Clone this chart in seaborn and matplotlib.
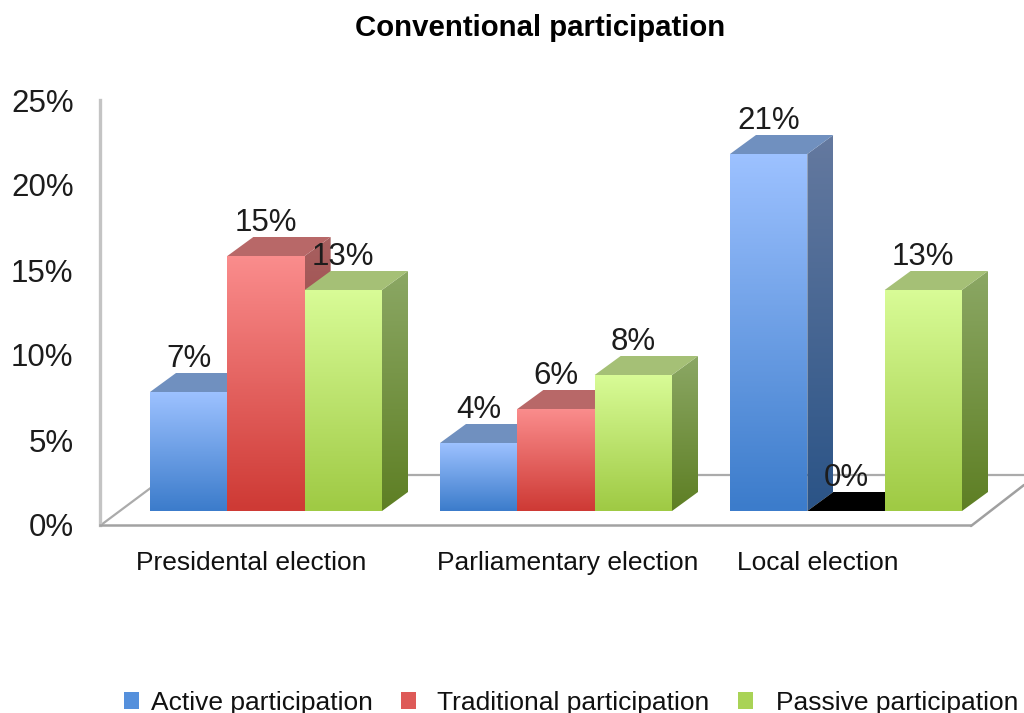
import numpy as np
import pandas as pd
import seaborn as sns
import matplotlib
matplotlib.use("Agg")
import matplotlib.pyplot as plt
from matplotlib.colors import LinearSegmentedColormap
from matplotlib.patches import Polygon, Patch

categories = ["Presidental election", "Parliamentary election", "Local election"]
series_names = ["Active participation", "Traditional participation", "Passive participation"]
active = [7, 4, 21]
traditional = [15, 6, 0]
passive = [13, 8, 13]
y_ticks = [0, 5, 10, 15, 20, 25]
y_tick_labels = ["0%", "5%", "10%", "15%", "20%", "25%"]

front_top = ["#9CC1FF", "#FA8C8C", "#D8FB96"]
front_bot = ["#3C7CCB", "#CE3A35", "#9FCA44"]
side_top = ["#64799F", "#A86060", "#8BA764"]
side_bot = ["#2B5487", "#8E2D2A", "#5E7F24"]
top_face = ["#7090BF", "#B86868", "#A5C076"]

W, H = 1024, 713
AX_L, AX_R, AX_T, AX_B = 100, 970, 100, 525
GROUP_PX = 290.0
C0_PX = 266.0
PX_PER_UNIT = 17.0
BASE_PX = 14.0
DX_PX, DY_PX = 26.0, 19.0

sns.set_theme(style="white")
plt.rcParams["font.family"] = ["Liberation Sans", "DejaVu Sans"]

rows = []
for i, cat in enumerate(categories):
    for name, vals in zip(series_names, [active, traditional, passive]):
        rows.append({"election": cat, "series": name, "value": vals[i]})
df = pd.DataFrame(rows)

fig = plt.figure(figsize=(W / 100, H / 100), dpi=100)
ax = fig.add_axes([AX_L / W, (H - AX_B) / H, (AX_R - AX_L) / W, (AX_B - AX_T) / H])

sns.barplot(data=df, x="election", y="value", hue="series", hue_order=series_names,
            palette=front_bot, width=0.8, gap=0, dodge=True, errorbar=None, ax=ax, legend=False,
            linewidth=0)

xlim = ((AX_L - C0_PX) / GROUP_PX, (AX_R - C0_PX) / GROUP_PX)
ylim = (0, 25)
base = BASE_PX / PX_PER_UNIT
dx, dy = DX_PX / GROUP_PX, DY_PX / PX_PER_UNIT


def xd(px):
    return (px - C0_PX) / GROUP_PX


def yd(py):
    return (AX_B - py) / PX_PER_UNIT


def gradient(patch, c_top, c_bot, z):
    ax.add_patch(patch)
    patch.set_facecolor("none")
    patch.set_edgecolor("none")
    patch.set_clip_on(False)
    verts = patch.get_xy()
    x0, x1 = verts[:, 0].min(), verts[:, 0].max()
    y0, y1 = verts[:, 1].min(), verts[:, 1].max()
    cmap = LinearSegmentedColormap.from_list("g", [c_bot, c_top])
    im = ax.imshow(np.linspace(1, 0, 64).reshape(-1, 1), cmap=cmap, vmin=0, vmax=1, aspect="auto",
                   extent=(x0, x1, y0, y1), zorder=z, interpolation="bilinear")
    im.set_clip_box(fig.bbox)
    im.set_clip_path(patch)


# Back edges of the floor, behind the bars
floor_kw = dict(color="#ababab", lw=1.6, clip_on=False, zorder=1, solid_capstyle="round")
ax.plot([xd(101), xd(168)], [yd(525), yd(475)], **floor_kw)
ax.plot([xd(168), xd(1024)], [yd(475), yd(475)], **floor_kw)
ax.plot([xd(971), xd(1024)], [yd(526), yd(485)], color="#a0a0a0", lw=1.8, clip_on=False, zorder=1)

# Extrude every bar that seaborn drew
z = 3.0
bars = []
for s, cont in enumerate(ax.containers):
    for g, rect in enumerate(cont):
        bars.append((g, s, rect))
bars.sort(key=lambda t: (t[0], t[1]))

for g, s, rect in bars:
    left, w, h = rect.get_x(), rect.get_width(), rect.get_height()
    low, high = base, base + h
    rect.set_y(low)
    rect.set_zorder(z)
    rect.set_visible(h > 0)
    right = left + w
    if h > 0:
        side = Polygon([(right, low), (right + dx, low + dy), (right + dx, high + dy), (right, high)],
                       closed=True, transform=ax.transData)
        gradient(side, side_top[s], side_bot[s], z + 0.1)
        ax.add_patch(Polygon([(left, high), (left + dx, high + dy), (right + dx, high + dy), (right, high)],
                             closed=True, fc=top_face[s], ec="none", zorder=z + 0.1, clip_on=False))
        front = Polygon([(left, low), (right, low), (right, high), (left, high)], closed=True,
                        transform=ax.transData)
        gradient(front, front_top[s], front_bot[s], z + 0.2)
    else:
        ax.add_patch(Polygon([(left, high), (left + dx, high + dy), (right + dx, high + dy), (right, high)],
                             closed=True, fc="black", ec="none", zorder=z + 0.1, clip_on=False))
    z += 0.5

# Value labels
for g, s, rect in bars:
    ax.annotate(f"{rect.get_height():.0f}%", (rect.get_x() + rect.get_width() / 2, base + rect.get_height()),
                xytext=(0, 33), textcoords="offset pixels", ha="center", va="center",
                fontsize=22.5, color="#1c1c1c", zorder=20)

ax.set_xlim(*xlim)
ax.set_ylim(*ylim)
ax.set_xlabel("")
ax.set_ylabel("")
ax.set_yticks(y_ticks, y_tick_labels)
ax.tick_params(axis="y", length=0, pad=19, labelsize=22.5, labelcolor="#1c1c1c")

# Category labels sit off the group centres in the reference
label_px = [251, 568, 818]
ax.set_xticks([xd(p) for p in label_px], categories)
ax.tick_params(axis="x", length=0, pad=19, labelsize=19, labelcolor="#111111")

for name in ["top", "right"]:
    ax.spines[name].set_visible(False)
ax.spines["left"].set_color("#c4c4c4")
ax.spines["left"].set_linewidth(2.4)
ax.spines["bottom"].set_color("#a2a2a2")
ax.spines["bottom"].set_linewidth(1.8)

fig.text(540 / W, 1 - 28 / H, "Conventional participation", ha="center", va="center",
         fontsize=21.2, fontweight="bold", color="black")

# Legend entries: unevenly spaced in the reference, so each is its own legend
legend_x = [124, 401, 738]
legend_pad = [0.44, 0.8, 0.87]
legend_colors = ["#5590DC", "#DE5A58", "#A9D356"]
for x, name, col, pad in zip(legend_x, series_names, legend_colors, legend_pad):
    fig.legend(handles=[Patch(fc=col, ec="none", label=name)], loc="center left",
               bbox_to_anchor=(x / W, 1 - 703 / H), frameon=False, fontsize=19,
               handlelength=0.58, handleheight=0.58, handletextpad=pad,
               borderpad=0, borderaxespad=0, labelcolor="#111111")

fig.savefig("out.png", dpi=100, facecolor="white")
